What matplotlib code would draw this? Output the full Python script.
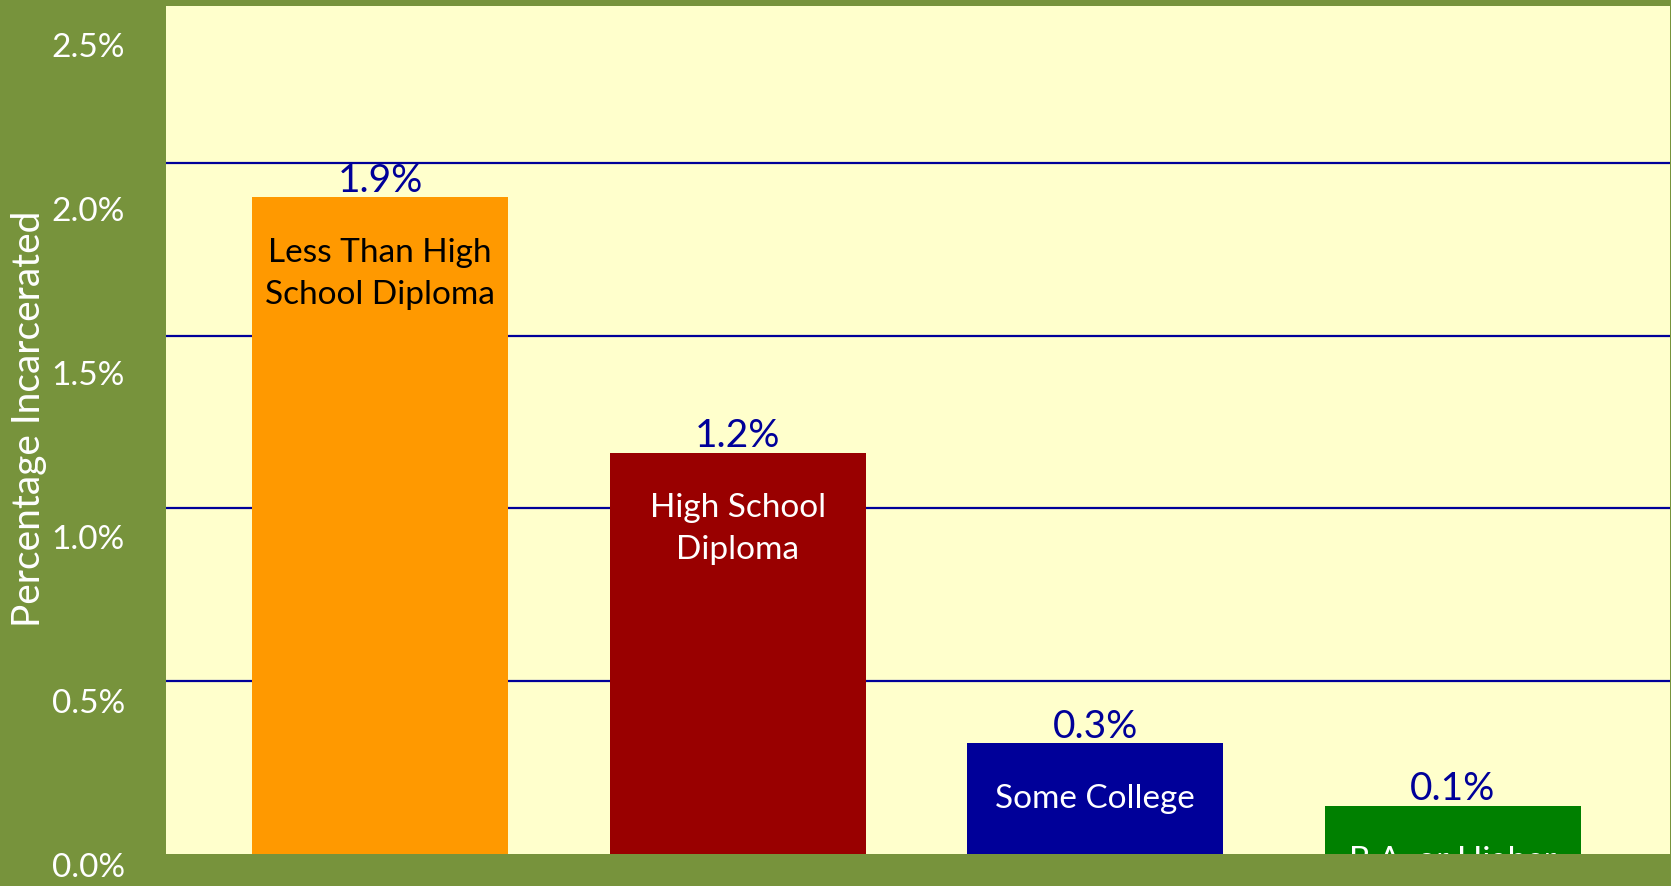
import matplotlib
matplotlib.use("Agg")
import matplotlib.pyplot as plt

plt.rcParams["font.family"] = ["Lato", "DejaVu Sans"]

categories = ["Less Than High\nSchool Diploma", "High School\nDiploma", "Some College", "B.A. or Higher"]
values = [1.9, 1.16, 0.32, 0.14]
bar_colors = ["#FF9900", "#990000", "#000099", "#008000"]
text_colors = ["black", "white", "white", "white"]

grid_values = [0.5, 1.0, 1.5, 2.0]
tick_values = [0.0, 0.5, 1.0, 1.5, 2.0, 2.5]
tick_labels = ["0.0%", "0.5%", "1.0%", "1.5%", "2.0%", "2.5%"]

W, H = 1671, 886
fig = plt.figure(figsize=(W / 100, H / 100), dpi=100, facecolor="#77933C")

# main plotting area
ax = fig.add_axes([166 / W, 32 / H, 1504 / W, 848 / H])
ax.set_facecolor("#FFFFCC")
x = range(len(values))
ax.bar(x, values, width=0.716, color=bar_colors, zorder=2)
ax.set_xlim(-0.599, 3.608)
ax.set_ylim(0, 2.454)
for spine in ax.spines.values():
    spine.set_visible(False)
ax.set_xticks([])
ax.set_yticks(grid_values)
ax.tick_params(axis="y", length=0, labelleft=False)
ax.grid(axis="y", color="#000099", linewidth=1.6)
ax.set_axisbelow(True)

for i, (v, name, tc) in enumerate(zip(values, categories, text_colors)):
    ax.annotate(f"{v:.1f}%", (i, v), xytext=(0, 12), textcoords="offset points",
                ha="center", va="center", fontsize=28, color="#000099", zorder=3)
    ax.annotate(name, (i, v), xytext=(0, -29), textcoords="offset points",
                ha="center", va="top", fontsize=24, color=tc, linespacing=1.5,
                clip_on=True, zorder=3)

# percentage scale shown in the left margin
lab = fig.add_axes([125 / W, 21 / H, 0.0005, 820 / H])
lab.set_ylim(0, 2.5)
lab.set_yticks(tick_values, tick_labels)
lab.set_xticks([])
lab.tick_params(axis="y", length=0, pad=0, labelcolor="white", labelsize=24)
lab.patch.set_visible(False)
for spine in lab.spines.values():
    spine.set_visible(False)

fig.text(29 / W, 1 - 419 / H, "Percentage Incarcerated", rotation=90,
         ha="center", va="center", fontsize=28, color="white")

fig.savefig("out.png", dpi=100, facecolor=fig.get_facecolor())
